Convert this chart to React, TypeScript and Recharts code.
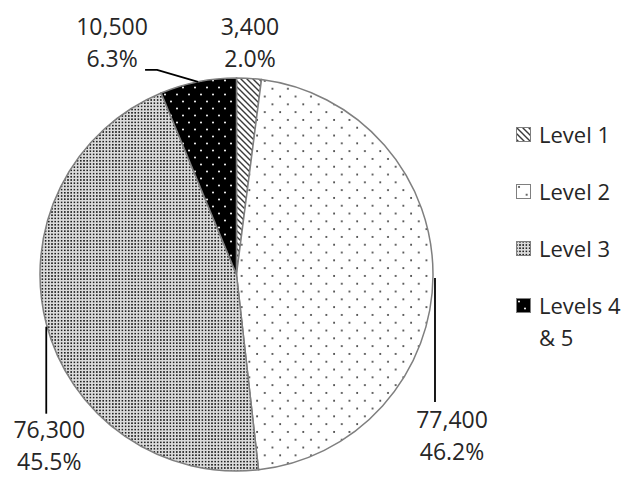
import React from 'react';
import { PieChart, Pie, Cell, Legend } from 'recharts';

const CATEGORIES = ['Level 1', 'Level 2', 'Level 3', 'Levels 4 & 5'];
const VALUES = [3400, 77400, 76300, 10500];
const PATTERN_IDS = ['pat-level1', 'pat-level2', 'pat-level3', 'pat-level45'];

// label placement relative to the point where each slice's mid-angle meets the rim
const LABEL_LAYOUT = [
  { dx: 1, dy: -43, leader: [] as number[][] },
  { dx: 19, dy: 152, leader: [[2, 2], [2, 126]] },
  { dx: 3, dy: 114, leader: [[0, 3], [0, 90]] },
  { dx: -86, dy: -47, leader: [[0, 0], [-41, -12], [-53, -12]] },
];

const TEXT_COLOR = '#262626';
const FONT = '"Open Sans", sans-serif';
const RADIAN = Math.PI / 180;

const data = CATEGORIES.map((name, i) => ({ name, value: VALUES[i] }));
const total = VALUES.reduce((a, b) => a + b, 0);

const renderLabel = (props: any) => {
  const { cx, cy, midAngle, outerRadius, index, value } = props;
  const ex = cx + outerRadius * Math.cos(-midAngle * RADIAN);
  const ey = cy + outerRadius * Math.sin(-midAngle * RADIAN);
  const layout = LABEL_LAYOUT[index];
  const pct = ((value / total) * 100).toFixed(1) + '%';
  const x = ex + layout.dx;
  const y = ey + layout.dy;
  return (
    <g key={`label-${index}`}>
      {layout.leader.length > 1 && (
        <polyline
          points={layout.leader.map(([px, py]) => `${ex + px},${ey + py}`).join(' ')}
          fill="none"
          stroke="#000"
          strokeWidth={1.8}
        />
      )}
      <text x={x} y={y} textAnchor="middle" fill={TEXT_COLOR} fontFamily={FONT} fontSize={23}>
        <tspan x={x} y={y}>{value.toLocaleString('en-US')}</tspan>
        <tspan x={x} y={y + 32}>{pct}</tspan>
      </text>
    </g>
  );
};

const renderLegend = () => (
  <div style={{ fontFamily: FONT, fontSize: 22, color: TEXT_COLOR, lineHeight: '32px' }}>
    {CATEGORIES.map((name, i) => (
      <div key={name} style={{ display: 'flex', alignItems: 'flex-start', marginBottom: 25 }}>
        <svg width={15} height={15} style={{ marginTop: 9, marginRight: 8, flexShrink: 0 }}>
          <rect x={0.5} y={0.5} width={14} height={14} fill={`url(#${PATTERN_IDS[i]})`} stroke="#7f7f7f" strokeWidth={1} />
        </svg>
        <span style={{ width: 88 }}>{name}</span>
      </div>
    ))}
  </div>
);

const App: React.FC = () => {
  return (
    <div style={{ position: 'absolute', left: 0, top: 0, width: 624, height: 478, background: '#fff' }}>
      <PieChart width={624} height={478} margin={{ top: 0, right: 0, bottom: 0, left: 0 }}>
        <defs>
          <pattern id="pat-level1" width={6} height={6} patternUnits="userSpaceOnUse">
            <rect width={6} height={6} fill="#fff" />
            <path d="M-1,-1 L7,7 M-1,5 L1,7 M5,-1 L7,1" stroke="#3a3a3a" strokeWidth={1.4} />
          </pattern>
          <pattern id="pat-level2" width={15.4} height={15.6} patternUnits="userSpaceOnUse">
            <rect width={15.4} height={15.6} fill="#fff" />
            <circle cx={3} cy={3} r={1} fill="#333" />
            <circle cx={10.7} cy={10.8} r={1} fill="#333" />
          </pattern>
          <pattern id="pat-level3" width={3.2} height={3.2} patternUnits="userSpaceOnUse">
            <rect width={3.2} height={3.2} fill="#dcdcdc" />
            <rect width={1.6} height={1.6} fill="#222" />
          </pattern>
          <pattern id="pat-level45" width={12} height={14} patternUnits="userSpaceOnUse">
            <rect width={12} height={14} fill="#000" />
            <circle cx={3} cy={3.5} r={1} fill="#fff" />
            <circle cx={9} cy={10.5} r={1} fill="#fff" />
          </pattern>
        </defs>
        <Pie
          data={data}
          dataKey="value"
          nameKey="name"
          cx={236.5}
          cy={274.5}
          outerRadius={196.5}
          startAngle={90}
          endAngle={-270}
          stroke="#7f7f7f"
          strokeWidth={1.5}
          label={renderLabel}
          labelLine={false}
          isAnimationActive={false}
        >
          {data.map((entry, i) => (
            <Cell key={entry.name} fill={`url(#${PATTERN_IDS[i]})`} />
          ))}
        </Pie>
        <Legend
          layout="vertical"
          align="right"
          verticalAlign="top"
          content={renderLegend}
          wrapperStyle={{ left: 516, top: 118, width: 108 }}
        />
      </PieChart>
    </div>
  );
};

export default App;
